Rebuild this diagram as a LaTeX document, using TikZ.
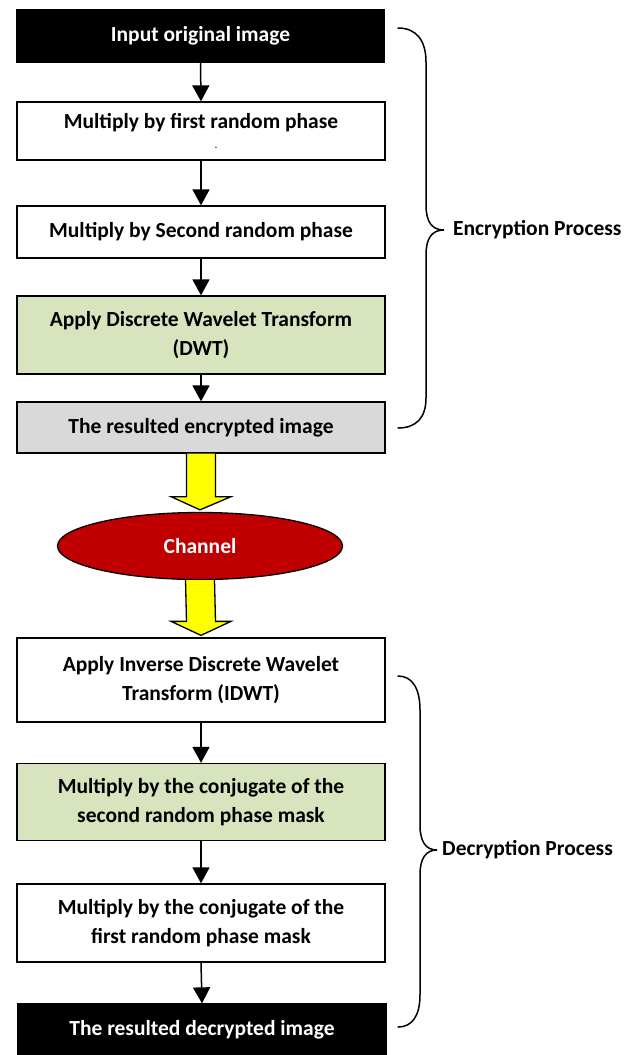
\documentclass[tikz,border=0pt]{standalone}
\usepackage{fontspec}
\setmainfont{Carlito}
\usetikzlibrary{shapes.geometric,arrows.meta,calc}
\definecolor{boxgreen}{HTML}{D7E4BD}
\definecolor{boxgrey}{HTML}{D9D9D9}
\definecolor{chanred}{HTML}{C00000}
\definecolor{pipeyellow}{HTML}{FFFF00}
\begin{document}
\begin{tikzpicture}[x=1pt,y=-1pt,
  stepbox/.style={draw=black, line width=1.3pt, rectangle, minimum width=368pt,
    inner sep=0pt, align=center, font=\fontsize{21.5}{29.5}\selectfont\bfseries},
  darkbox/.style={stepbox, fill=black, text=white},
  flow/.style={line width=1.5pt, -{Triangle[width=17pt,length=16pt]}},
  pipe/.style={draw=black, line width=1.3pt, fill=pipeyellow, line join=miter},
  brace/.style={line width=1.5pt, line cap=round},
  side/.style={anchor=west, inner sep=0pt, font=\fontsize{21.5}{25}\selectfont\bfseries}]
\useasboundingbox (0,0) rectangle (633,1055);

% encryption chain
\node[darkbox, minimum height=53pt] (b1) at (200.5,36) {Input original image};
\node[stepbox, minimum height=58pt] (b2) at (201,131)
  {Multiply by first random phase\\[-10pt]{\fontsize{9}{9}\selectfont\hspace*{30pt}.}};
\node[stepbox, minimum height=52pt] (b3) at (201,232) {Multiply by Second random phase};
\node[stepbox, fill=boxgreen, minimum height=78pt] (b4) at (201,335)
  {Apply Discrete Wavelet Transform\\(DWT)};
\node[stepbox, fill=boxgrey, minimum height=51pt] (b5) at (201,427.5)
  {The resulted encrypted image};

% channel
\node[ellipse, draw=black, line width=1.3pt, fill=chanred, text=white,
  minimum width=285pt, minimum height=67pt, inner sep=0pt,
  font=\fontsize{21.5}{25}\selectfont\bfseries] (ch) at (200,546) {Channel};

% decryption chain
\node[stepbox, minimum height=84pt] (b6) at (201,680)
  {Apply Inverse Discrete Wavelet\\Transform (IDWT)};
\node[stepbox, fill=boxgreen, minimum height=77pt] (b7) at (201,802)
  {Multiply by the conjugate of the\\second random phase mask};
\node[stepbox, minimum height=78pt] (b8) at (201,923)
  {Multiply by the conjugate of the\\first random phase mask};
\node[darkbox, minimum height=52pt] (b9) at (202,1030) {The resulted decrypted image};

% step arrows
\draw[flow] (b1.south) -- (b2.north);
\draw[flow] (b2.south) -- (b3.north);
\draw[flow] (b3.south) -- (b4.north);
\draw[flow] (b4.south) -- (b5.north);
\draw[flow] (b6.south) -- (b7.north);
\draw[flow] (b7.south) -- (b8.north);
\draw[flow] (b8.south) -- (b9.north);

% transmission arrows
\draw[pipe] ($(b5.south)+(-14.5,0)$) -- ($(b5.south)+(-14.5,43)$)
  -- ($(b5.south)+(-30,43)$) -- ($(ch.north)+(0,-2)$)
  -- ($(b5.south)+(30,43)$) -- ($(b5.south)+(14.5,43)$)
  -- ($(b5.south)+(14.5,0)$);
\draw[pipe] ($(ch.south)+(-14.5,0)$) -- ($(b6.north)+(-14.5,-16)$)
  -- ($(b6.north)+(-30,-16)$) -- ($(b6.north)+(0,-2)$)
  -- ($(b6.north)+(30,-16)$) -- ($(b6.north)+(14.5,-16)$)
  -- ($(ch.south)+(14.5,0)$);

% process labels and braces
\node[side] (enc) at (453,230) {Encryption Process};
\node[side] (dec) at (442,850) {Decryption Process};
\draw[brace] (398,28) .. controls (416,28) and (426,40) .. (426,62)
  -- (426,205) .. controls (426,222) and (432,230) .. ($(enc.west)+(-9,0)$)
  .. controls (432,230) and (426,238) .. (426,255)
  -- (426,398) .. controls (426,418) and (416,428) .. (398,428);
\draw[brace] (398,676) .. controls (412,676) and (420,688) .. (420,710)
  -- (420,825) .. controls (420,842) and (426,850) .. ($(dec.west)+(-5,0)$)
  .. controls (426,850) and (420,858) .. (420,875)
  -- (420,995) .. controls (420,1016) and (412,1027) .. (398,1027);
\end{tikzpicture}
\end{document}
